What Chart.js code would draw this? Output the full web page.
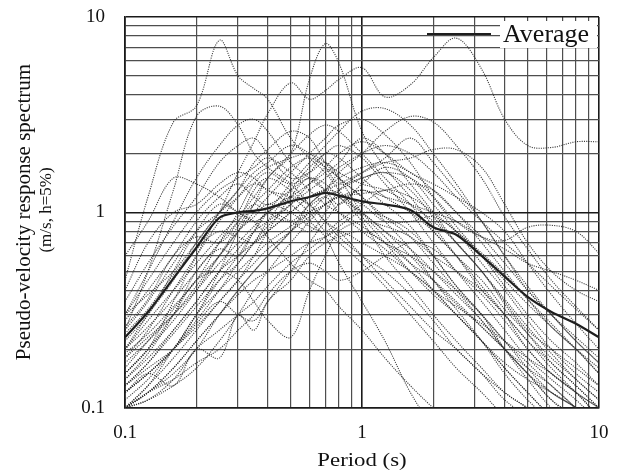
<!DOCTYPE html>
<html>
<head>
<meta charset="utf-8">
<script src="https://cdn.jsdelivr.net/npm/chart.js@4.4.1/dist/chart.umd.min.js"></script>
<style>
  html, body { margin: 0; padding: 0; background: #fff; }
  #wrap { width: 620px; height: 471px; }
</style>
</head>
<body>
<div id="wrap"><canvas id="spectrum"></canvas></div>
<script>
// periods (s) shared by every record
const periods = [0.1, 0.125, 0.16, 0.2, 0.25, 0.3, 0.35, 0.4, 0.5, 0.6, 0.7, 0.8, 1, 1.25, 1.6, 2, 2.5, 3.2, 4, 5, 6.3, 8, 10];

// average spectrum (m/s)
const average = [0.23, 0.31, 0.46, 0.66, 0.94, 1.0, 1.02, 1.05, 1.14, 1.2, 1.26, 1.22, 1.14, 1.1, 1.03, 0.84, 0.77, 0.6, 0.47, 0.37, 0.31, 0.27, 0.23];

// individual records (m/s)
const rec01 = [0.45, 1.2, 2.9, 3.5, 7.6, 5.0, 4.3, 3.8, 2.4, 1.9, 1.6, 1.3, 0.95, 0.7, 0.5, 0.38, 0.3, 0.22, 0.17, 0.14, 0.12, 0.1, 0.08];
const rec02 = [0.1, 0.13, 0.2, 0.3, 0.5, 0.8, 1.1, 1.5, 2.0, 4.8, 7.3, 5.8, 2.6, 1.7, 1.2, 0.85, 0.6, 0.4, 0.3, 0.22, 0.17, 0.13, 0.1];
const rec03 = [0.15, 0.2, 0.35, 0.6, 1.0, 1.6, 2.3, 3.2, 4.6, 3.8, 4.2, 4.8, 5.5, 3.9, 4.5, 6.2, 7.8, 5.4, 3.0, 2.2, 2.15, 2.3, 2.3];
const rec04 = [0.25, 0.5, 1.3, 3.1, 3.5, 2.8, 2.0, 1.7, 1.4, 1.1, 0.9, 0.8, 0.6, 0.45, 0.33, 0.25, 0.2, 0.15, 0.12, 0.1, 0.085, 0.07, 0.06];
const rec05 = [0.1, 0.12, 0.15, 0.2, 0.3, 0.4, 0.5, 0.6, 0.8, 1.0, 1.2, 1.3, 1.5, 1.6, 1.5, 1.2, 0.9, 0.75, 0.72, 0.84, 0.86, 0.8, 0.62];
const rec06 = [0.12, 0.15, 0.2, 0.3, 0.45, 0.6, 0.8, 1.0, 1.4, 1.8, 2.2, 2.6, 3.3, 3.4, 2.8, 2.0, 1.4, 0.9, 0.6, 0.4, 0.3, 0.22, 0.17];
const rec07 = [0.1, 0.12, 0.16, 0.22, 0.3, 0.4, 0.5, 0.6, 0.8, 1.1, 1.3, 1.6, 2.0, 2.6, 3.1, 2.9, 2.2, 1.5, 0.95, 0.65, 0.45, 0.33, 0.25];
const rec08 = [0.13, 0.17, 0.25, 0.35, 0.5, 0.6, 0.7, 0.8, 1.0, 1.2, 1.3, 1.4, 1.6, 1.8, 1.9, 2.1, 2.1, 1.7, 1.1, 0.7, 0.5, 0.4, 0.35];
const rec09 = [0.3, 0.5, 0.9, 1.5, 2.2, 2.8, 3.0, 2.6, 1.8, 1.5, 1.3, 1.2, 0.9, 0.6, 0.42, 0.3, 0.22, 0.16, 0.12, 0.1, 0.08, 0.065, 0.05];
const rec10 = [0.2, 0.3, 0.45, 0.7, 1.0, 1.3, 1.8, 2.1, 2.6, 2.4, 1.8, 1.5, 1.2, 0.9, 0.65, 0.45, 0.32, 0.22, 0.15, 0.11, 0.085, 0.065, 0.05];
const rec11 = [0.6, 0.9, 1.5, 1.4, 1.2, 1.0, 0.9, 0.75, 0.55, 0.45, 0.4, 0.33, 0.25, 0.18, 0.13, 0.1, 0.08, 0.06, 0.05, 0.04, 0.03, 0.025, 0.02];
const rec12 = [0.4, 0.7, 1.0, 1.1, 1.4, 1.6, 1.5, 1.3, 1.2, 1.0, 0.8, 0.7, 0.55, 0.42, 0.3, 0.22, 0.16, 0.12, 0.09, 0.07, 0.05, 0.04, 0.03];
const rec13 = [0.25, 0.35, 0.55, 0.8, 1.0, 1.2, 1.4, 1.3, 1.1, 0.9, 0.75, 0.55, 0.35, 0.22, 0.12, 0.08, 0.06, 0.045, 0.035, 0.03, 0.025, 0.02, 0.015];
const rec14 = [0.1, 0.11, 0.14, 0.2, 0.25, 0.3, 0.35, 0.42, 0.55, 0.65, 0.75, 0.85, 1.0, 0.95, 0.8, 0.6, 0.42, 0.3, 0.22, 0.17, 0.13, 0.1, 0.08];
const rec15 = [0.12, 0.15, 0.13, 0.2, 0.18, 0.3, 0.25, 0.35, 0.45, 0.6, 0.7, 0.75, 0.8, 0.7, 0.55, 0.45, 0.35, 0.26, 0.2, 0.15, 0.12, 0.1, 0.08];
const rec16 = [0.15, 0.2, 0.3, 0.45, 0.5, 0.45, 0.35, 0.28, 0.23, 0.4, 0.6, 0.8, 0.9, 0.85, 0.75, 0.6, 0.5, 0.4, 0.3, 0.22, 0.16, 0.12, 0.09];
const rec17 = [0.18, 0.25, 0.4, 0.6, 0.9, 1.2, 1.5, 1.7, 1.9, 2.0, 1.8, 1.6, 1.4, 1.3, 1.1, 0.9, 0.7, 0.5, 0.35, 0.25, 0.2, 0.16, 0.13];
const rec18 = [0.2, 0.28, 0.4, 0.55, 0.75, 0.95, 1.2, 1.5, 2.0, 2.5, 2.8, 2.6, 2.0, 1.5, 1.1, 0.8, 0.6, 0.42, 0.3, 0.2, 0.15, 0.12, 0.09];
const rec19 = [0.3, 0.45, 0.7, 1.0, 1.3, 1.5, 1.7, 1.9, 1.6, 1.3, 1.1, 1.0, 0.85, 0.7, 0.6, 0.5, 0.4, 0.3, 0.22, 0.16, 0.12, 0.1, 0.08];
const rec20 = [0.14, 0.18, 0.25, 0.35, 0.5, 0.65, 0.8, 0.9, 1.1, 1.3, 1.5, 1.7, 2.0, 2.2, 2.0, 1.6, 1.2, 0.9, 0.7, 0.55, 0.42, 0.32, 0.25];
const rec21 = [0.22, 0.3, 0.5, 0.8, 1.1, 1.0, 0.9, 1.0, 1.2, 1.1, 0.9, 0.75, 0.6, 0.5, 0.38, 0.28, 0.2, 0.15, 0.11, 0.09, 0.07, 0.055, 0.045];
const rec22 = [0.1, 0.13, 0.18, 0.25, 0.35, 0.45, 0.55, 0.65, 0.8, 0.95, 1.1, 1.2, 1.3, 1.2, 1.1, 1.0, 0.9, 0.75, 0.65, 0.55, 0.5, 0.45, 0.4];
const rec23 = [0.35, 0.55, 0.85, 1.2, 1.8, 2.2, 2.4, 2.0, 1.5, 1.6, 1.8, 1.5, 1.0, 0.75, 0.55, 0.4, 0.3, 0.22, 0.16, 0.12, 0.09, 0.07, 0.055];
const rec24 = [0.16, 0.22, 0.32, 0.45, 0.6, 0.8, 1.0, 1.2, 1.6, 2.0, 2.4, 2.8, 3.0, 2.5, 1.8, 1.2, 0.85, 0.6, 0.42, 0.3, 0.22, 0.17, 0.13];
const rec25 = [0.12, 0.15, 0.2, 0.3, 0.4, 0.5, 0.6, 0.7, 0.85, 1.0, 1.1, 1.2, 1.25, 1.3, 1.4, 1.3, 1.0, 0.7, 0.5, 0.36, 0.26, 0.2, 0.15];
const rec26 = [0.1, 0.12, 0.16, 0.22, 0.3, 0.38, 0.45, 0.5, 0.6, 0.7, 0.75, 0.8, 0.7, 0.6, 0.5, 0.4, 0.33, 0.27, 0.22, 0.18, 0.15, 0.12, 0.1];
const rec27 = [0.28, 0.4, 0.6, 0.9, 1.2, 1.4, 1.2, 1.1, 1.3, 1.5, 1.4, 1.2, 1.0, 0.8, 0.65, 0.5, 0.38, 0.28, 0.2, 0.15, 0.11, 0.085, 0.065];
const rec28 = [0.13, 0.17, 0.24, 0.33, 0.45, 0.55, 0.7, 0.85, 1.1, 1.4, 1.7, 2.0, 2.3, 2.0, 1.6, 1.4, 1.2, 1.0, 0.8, 0.55, 0.38, 0.27, 0.2];
const rec29 = [0.15, 0.2, 0.28, 0.4, 0.6, 0.85, 1.1, 1.3, 1.7, 1.9, 1.7, 1.5, 1.2, 0.95, 0.75, 0.55, 0.4, 0.28, 0.2, 0.15, 0.11, 0.09, 0.07];
const rec30 = [0.11, 0.14, 0.2, 0.28, 0.4, 0.55, 0.7, 0.9, 1.3, 1.7, 2.0, 2.2, 1.9, 1.4, 1.0, 0.7, 0.5, 0.35, 0.25, 0.18, 0.14, 0.11, 0.085];
const rec31 = [0.2, 0.26, 0.36, 0.5, 0.7, 0.9, 1.1, 1.0, 0.9, 1.1, 1.3, 1.5, 1.7, 1.8, 1.6, 1.3, 1.0, 0.75, 0.55, 0.4, 0.3, 0.23, 0.18];
const rec32 = [0.1, 0.12, 0.14, 0.17, 0.2, 0.25, 0.3, 0.38, 0.5, 0.55, 0.5, 0.45, 0.5, 0.6, 0.7, 0.65, 0.5, 0.38, 0.28, 0.2, 0.15, 0.12, 0.1];
const rec33 = [0.13, 0.16, 0.2, 0.27, 0.35, 0.3, 0.28, 0.35, 0.5, 0.7, 0.9, 1.1, 1.3, 1.1, 0.85, 0.6, 0.42, 0.3, 0.2, 0.14, 0.1, 0.08, 0.06];
const rec34 = [0.3, 0.38, 0.5, 0.7, 1.0, 1.3, 1.6, 1.8, 2.2, 2.0, 1.7, 1.4, 1.5, 1.6, 1.3, 0.95, 0.7, 0.5, 0.36, 0.26, 0.19, 0.14, 0.11];
const rec35 = [0.17, 0.22, 0.3, 0.42, 0.6, 0.8, 0.95, 1.1, 1.0, 0.85, 0.8, 0.9, 1.1, 1.3, 1.2, 1.0, 0.8, 0.62, 0.48, 0.36, 0.27, 0.2, 0.15];
const rec36 = [0.24, 0.32, 0.48, 0.65, 0.8, 0.75, 0.7, 0.8, 1.0, 1.2, 1.3, 1.25, 1.0, 0.8, 0.6, 0.45, 0.34, 0.26, 0.2, 0.16, 0.13, 0.1, 0.08];
const rec37 = [0.19, 0.24, 0.33, 0.45, 0.7, 1.0, 1.4, 1.6, 1.4, 1.6, 2.0, 1.9, 1.5, 1.2, 1.0, 0.8, 0.6, 0.45, 0.32, 0.24, 0.18, 0.14, 0.11];
const rec38 = [0.14, 0.19, 0.3, 0.5, 0.65, 0.6, 0.8, 1.0, 0.9, 0.8, 1.0, 1.3, 1.6, 1.9, 2.4, 1.8, 1.3, 0.9, 0.6, 0.42, 0.3, 0.22, 0.17];
const rec39 = [0.26, 0.36, 0.6, 0.75, 0.7, 0.9, 1.3, 1.5, 1.3, 1.1, 1.2, 1.0, 0.8, 0.65, 0.5, 0.4, 0.3, 0.22, 0.16, 0.12, 0.09, 0.07, 0.055];
const rec40 = [0.12, 0.15, 0.2, 0.26, 0.35, 0.45, 0.6, 0.8, 1.2, 1.5, 1.3, 1.1, 1.4, 1.7, 1.5, 1.1, 0.8, 0.55, 0.4, 0.28, 0.2, 0.15, 0.12];
const rec41 = [0.18, 0.23, 0.3, 0.4, 0.55, 0.7, 0.85, 1.0, 1.2, 1.4, 1.6, 1.8, 2.4, 2.0, 1.4, 1.0, 0.7, 0.5, 0.34, 0.24, 0.17, 0.13, 0.1];
const rec42 = [0.1, 0.11, 0.13, 0.16, 0.22, 0.3, 0.4, 0.5, 0.7, 0.9, 1.1, 1.2, 1.1, 0.9, 0.9, 0.95, 0.8, 0.6, 0.45, 0.34, 0.26, 0.2, 0.16];

const records = [rec01, rec02, rec03, rec04, rec05, rec06, rec07, rec08, rec09, rec10, rec11, rec12, rec13, rec14,
                 rec15, rec16, rec17, rec18, rec19, rec20, rec21, rec22, rec23, rec24, rec25, rec26, rec27, rec28,
                 rec29, rec30, rec31, rec32, rec33, rec34, rec35, rec36, rec37, rec38, rec39, rec40, rec41, rec42];

// tick labels shown at the decades
const xTickLabels = ['0.1', '1', '10'];
const yTickLabels = ['0.1', '1', '10'];
const decades = [0.1, 1, 10];

const serif = '"Liberation Serif", "Times New Roman", serif';

function toPoints(values) {
    return values.map((v, i) => ({ x: periods[i], y: v }));
}

// 1..9 x each decade, 0.1 to 10
function logTicks() {
    const ticks = [];
    for (let k = 1; k <= 9; k++) ticks.push({ value: k / 10 });
    for (let k = 1; k <= 9; k++) ticks.push({ value: k });
    ticks.push({ value: 10 });
    return ticks;
}

function isDecade(v) {
    const l = Math.log10(v);
    return Math.abs(l - Math.round(l)) < 1e-9;
}

function decadeLabel(labels) {
    return function(value) {
        if (!isDecade(value)) return '';
        const idx = decades.findIndex(d => Math.abs(d - value) < 1e-9);
        return idx >= 0 ? labels[idx] : '';
    };
}

const datasets = records.map(r => ({
    data: toPoints(r),
    borderColor: 'rgba(40, 40, 40, 0.9)',
    borderWidth: 1.1,
    borderDash: [1.1, 1.2],
    pointRadius: 0,
    tension: 0.35,
    fill: false
}));

datasets.push({
    label: 'Average',
    data: toPoints(average),
    borderColor: '#1e1e1e',
    borderWidth: 2.2,
    pointRadius: 0,
    tension: 0.3,
    fill: false
});

// titles and legend drawn directly on the canvas
const annotate = {
    id: 'annotate',
    afterDraw(chart) {
        const ctx = chart.ctx;
        ctx.save();
        ctx.fillStyle = '#111';
        ctx.textAlign = 'center';
        ctx.textBaseline = 'middle';

        // x title, a little wider like the original
        ctx.save();
        ctx.translate(362, 461);
        ctx.scale(1.2, 1);
        ctx.font = '19px ' + serif;
        ctx.fillText('Period (s)', 0, 0);
        ctx.restore();

        // y title, two lines
        ctx.save();
        ctx.translate(24, 212);
        ctx.rotate(-Math.PI / 2);
        ctx.font = '21px ' + serif;
        ctx.fillText('Pseudo-velocity response spectrum', 0, 0);
        ctx.restore();
        ctx.save();
        ctx.translate(47, 210);
        ctx.rotate(-Math.PI / 2);
        ctx.font = '17px ' + serif;
        ctx.fillText('(m/s, h=5%)', 0, 0);
        ctx.restore();

        // legend
        ctx.fillStyle = '#fff';
        ctx.fillRect(500, 21, 97, 27);
        ctx.strokeStyle = '#1e1e1e';
        ctx.lineWidth = 2;
        ctx.beginPath();
        ctx.moveTo(427, 34);
        ctx.lineTo(491, 34);
        ctx.stroke();
        ctx.fillStyle = '#111';
        ctx.font = '26px ' + serif;
        ctx.textAlign = 'left';
        ctx.textBaseline = 'alphabetic';
        ctx.fillText('Average', 503, 42);
        ctx.restore();
    }
};

function gridColor(ctx) {
    const v = ctx.tick ? ctx.tick.value : 0;
    return isDecade(v) ? '#1a1a1a' : '#4e4e4e';
}

function gridWidth(ctx) {
    const v = ctx.tick ? ctx.tick.value : 0;
    return isDecade(v) ? 1.6 : 1.2;
}

new Chart(document.getElementById('spectrum'), {
    type: 'line',
    data: { datasets: datasets },
    options: {
        responsive: true,
        maintainAspectRatio: false,
        animation: false,
        layout: { padding: { left: 0, right: 21, top: 17, bottom: 0 } },
        plugins: {
            legend: { display: false },
            tooltip: { enabled: false }
        },
        scales: {
            x: {
                type: 'logarithmic',
                min: 0.1,
                max: 10,
                afterBuildTicks: scale => { scale.ticks = logTicks(); },
                afterFit: scale => {
                    scale.height = 63;
                    scale.paddingLeft = 0;
                    scale.paddingRight = 0;
                },
                grid: { color: gridColor, lineWidth: gridWidth, drawTicks: false },
                border: { color: '#1a1a1a', width: 1.6 },
                ticks: {
                    autoSkip: false,
                    maxRotation: 0,
                    padding: 14,
                    color: '#111',
                    font: { family: serif, size: 19 },
                    callback: decadeLabel(xTickLabels)
                }
            },
            y: {
                type: 'logarithmic',
                min: 0.1,
                max: 10,
                afterBuildTicks: scale => { scale.ticks = logTicks(); },
                afterFit: scale => {
                    scale.width = 125;
                    scale.paddingTop = 0;
                    scale.paddingBottom = 0;
                },
                grid: { color: gridColor, lineWidth: gridWidth, drawTicks: false },
                border: { color: '#1a1a1a', width: 1.6 },
                ticks: {
                    autoSkip: false,
                    padding: 20,
                    color: '#111',
                    font: { family: serif, size: 19 },
                    callback: decadeLabel(yTickLabels)
                }
            }
        }
    },
    plugins: [annotate]
});
</script>
</body>
</html>
